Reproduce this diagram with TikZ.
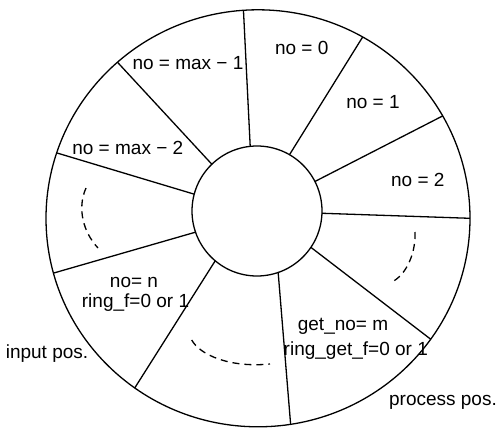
\documentclass[tikz,border=0pt]{standalone}
\usepackage{fontspec}
\setmainfont{Liberation Sans}
\usetikzlibrary{shapes.geometric}
\begin{document}
\begin{tikzpicture}[x=1pt,y=-1pt,
  edge/.style={line width=1.3pt},
  lbl/.style={font=\fontsize{19}{22}\selectfont, inner sep=0pt, align=center},
  dsh/.style={line width=1.3pt, dash pattern=on 7pt off 5pt}]
\useasboundingbox (0,0) rectangle (498,428);
\node[ellipse, draw, edge, minimum width=424pt, minimum height=417pt, inner sep=0pt, outer sep=0pt] (ring) at (258,218.3) {};
\node[circle, draw, edge, minimum size=130pt, inner sep=0pt, outer sep=0pt] (hub) at (257,211) {};
\draw[edge] (hub.96.3) -- (ring.94.5);
\draw[edge] (hub.60.9) -- (ring.60.7);
\draw[edge] (hub.27.4) -- (ring.29.5);
\draw[edge] (hub.-2) -- (ring.0);
\draw[edge] (hub.-34) -- (ring.-35.7);
\draw[edge] (hub.-71.3) -- (ring.-81);
\draw[edge] (hub.230.6) -- (ring.234.1);
\draw[edge] (hub.199.8) -- (ring.195.5);
\draw[edge] (hub.165.8) -- (ring.162.8);
\draw[edge] (hub.134.6) -- (ring.132.4);
\node[lbl] (n0) at (301.7,48.3) {no = 0};
\node[lbl] (nmax1) at (188,63.3) {no = max − 1};
\node[lbl] (n1) at (373,101.7) {no = 1};
\node[lbl] (n2) at (417.8,180) {no = 2};
\node[lbl] (nmax2) at (127.8,148.3) {no = max − 2};
\node[lbl] (nn) at (134,282.7) {no= n};
\node[lbl] (rf) at (135.5,302.5) {ring\_f=0 or 1};
\node[lbl] (gn) at (343,326.7) {get\_no= m};
\node[lbl] (rgf) at (355.8,350.8) {ring\_get\_f=0 or 1};
\node[lbl] (inp) at (47,353.3) {input pos.};
\node[lbl] (proc) at (443,402.5) {process pos.};
\draw[dsh] (86,188) .. controls (77,208) and (83,232) .. (98,248);
\draw[dsh] (415,232) .. controls (416,250) and (408,275) .. (390,283);
\draw[dsh] (191.7,340) .. controls (200,355) and (230,368) .. (270,364);
\end{tikzpicture}
\end{document}
